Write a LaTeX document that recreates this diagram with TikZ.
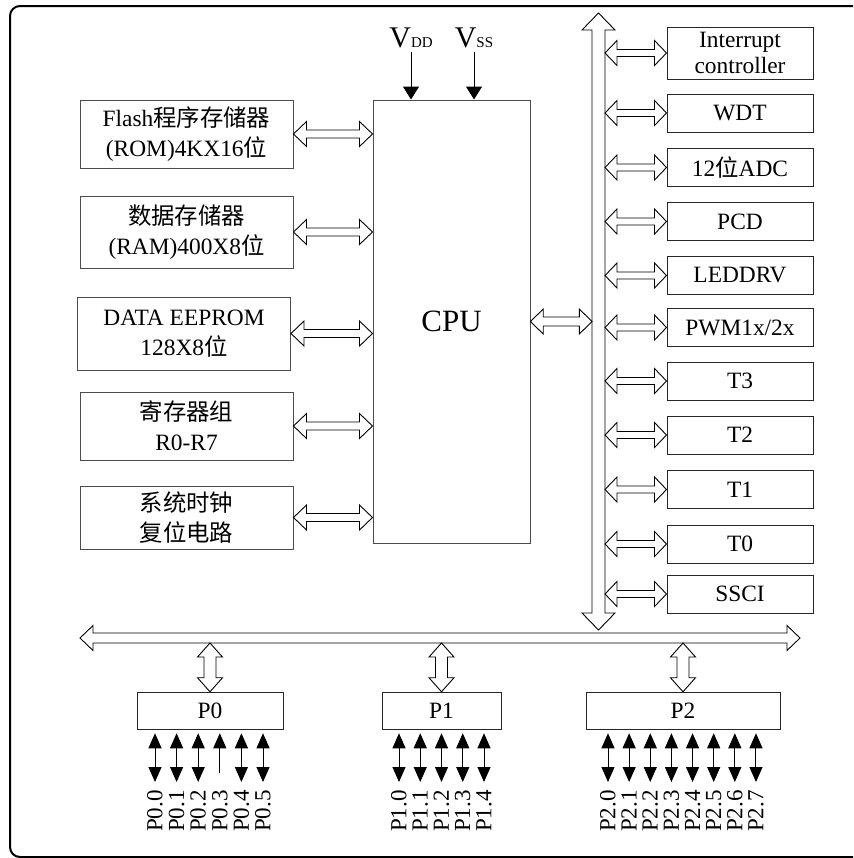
\documentclass[tikz,border=0pt]{standalone}
\usepackage{fontspec}
\setmainfont{Liberation Serif}
\newfontfamily\cjk{Noto Sans CJK SC}
\usetikzlibrary{arrows.meta,calc,positioning}

\tikzset{
  box/.style={draw=black!70, line width=0.5pt, align=center, inner sep=0pt,
              font=\fontsize{11.7}{15}\selectfont},
  lbox/.style={box, minimum width=106.5pt},
  rbox/.style={box, draw=black!85, minimum width=73pt, minimum height=19pt,
               font=\fontsize{11.7}{13}\selectfont},
  pbox/.style={box, draw=black!85, minimum height=18.75pt},
  hollow/.style={draw=black, line width=0.45pt, fill=white, line join=miter},
  pin/.style={line width=0.5pt,
              {Triangle[length=7.5pt,width=6.5pt]}-{Triangle[length=7.5pt,width=6.5pt]}},
  pinup/.style={line width=0.5pt, {Triangle[length=7.5pt,width=6.5pt]}-},
  pinlabel/.style={rotate=90, anchor=east, inner sep=0pt,
                   font=\fontsize{11.5}{12}\selectfont},
  supply/.style={line width=0.5pt, -{Triangle[length=6.5pt,width=8pt]}},
}

% hollow double arrows: from, to, head length, head half width, shaft half width
\newcommand{\hdbl}[5]{%
  \draw[hollow] (#1) -- ++(#3,#4) -- ++(0,#5-#4) -- ($(#2)+(-#3,#5)$) -- ++(0,#4-#5) -- (#2)
    -- ++(-#3,-#4) -- ++(0,#4-#5) -- ($(#1)+(#3,-#5)$) -- ++(0,#5-#4) -- cycle;}
\newcommand{\vdbl}[5]{%
  \draw[hollow] (#1) -- ++(#4,#3) -- ++(#5-#4,0) -- ($(#2)+(#5,-#3)$) -- ++(#4-#5,0) -- (#2)
    -- ++(-#4,-#3) -- ++(#4-#5,0) -- ($(#1)+(-#5,#3)$) -- ++(#5-#4,0) -- cycle;}

\begin{document}
\begin{tikzpicture}[x=0.5pt, y=-0.5pt]
    \useasboundingbox (0,0) rectangle (853,858);
    \clip (0,0) rectangle (853,858);
    \draw[line width=1pt, rounded corners=5pt] (10,6) rectangle (900,857);

    % memories and clock on the left
    \node[lbox, minimum height=34pt] (flash) at (186.5,134)
        {Flash{\cjk 程序存储器}\\(ROM)4KX16{\cjk 位}};
    \node[lbox, minimum height=36pt] (ram) at (186.5,232)
        {{\cjk 数据存储器}\\(RAM)400X8{\cjk 位}};
    \node[lbox, minimum height=36.5pt] (eeprom) at (184,333.5)
        {DATA EEPROM\\128X8{\cjk 位}};
    \node[lbox, minimum height=34pt] (regs) at (186.5,426)
        {{\cjk 寄存器组}\\R0-R7};
    \node[lbox, minimum height=31.5pt] (clk) at (186.5,517.5)
        {{\cjk 系统时钟}\\{\cjk 复位电路}};

    % CPU and supply
    \node[box, minimum width=78.5pt, minimum height=221.5pt] (cpu) at (451.5,321.5)
        {\fontsize{15.5}{18}\selectfont CPU};
    \node[anchor=south, inner sep=2pt] (vdd) at (411,52)
        {\fontsize{15}{15}\selectfont V{\fontsize{7.5}{8}\selectfont DD}};
    \node[anchor=south, inner sep=2pt] (vss) at (474,52)
        {\fontsize{15}{15}\selectfont V{\fontsize{7.5}{8}\selectfont SS}};
    \draw[supply] (vdd.south) -- (vdd.south |- cpu.north);
    \draw[supply] (vss.south) -- (vss.south |- cpu.north);

    \foreach \nm in {flash,ram,eeprom,regs,clk}
        \hdbl{\nm.east}{\nm.east -| cpu.west}{13}{12.5}{4};

    % buses
    \coordinate (vbtop) at (598.5,13);
    \coordinate (vbbot) at (598.5,630);
    \coordinate (vbl) at (592,0);
    \coordinate (vbr) at (605,0);
    \coordinate (hbl) at (80,638);
    \coordinate (hbr) at (800,638);
    \coordinate (hbb) at (0,643);
    \hdbl{hbl}{hbr}{13}{12.5}{5}
    \vdbl{vbtop}{vbbot}{17}{16.5}{6.5}
    \hdbl{cpu.east}{cpu.east -| vbl}{12.7}{12.5}{4.5}

    % peripherals on the right
    \node[rbox, minimum height=26pt] (intc) at (740,53) {Interrupt\\controller};
    \hdbl{intc.west -| vbr}{intc.west}{12}{12.5}{3.5}
    \foreach \nm/\yy/\txt in {wdt/113/WDT, adc/167.5/{12{\cjk 位}ADC}, pcd/221.5/PCD,
                              leddrv/275.5/LEDDRV, pwm/327.5/{PWM1x/2x}, tthree/381/T3,
                              ttwo/435/T2, tone/489.5/T1, tzero/544/T0, ssci/594/SSCI}{
        \node[rbox] (\nm) at (740,\yy) {\txt};
        \hdbl{\nm.west -| vbr}{\nm.west}{12}{12.5}{3.5}
    }

    % ports
    \node[pbox, minimum width=73pt] (port0) at (210,711) {P0};
    \node[pbox, minimum width=59.5pt] (port1) at (441.5,711) {P1};
    \node[pbox, minimum width=97pt] (port2) at (683,711) {P2};
    \foreach \nm in {port0,port1,port2}
        \vdbl{\nm.north |- hbb}{\nm.north}{14}{12.5}{6};

    \foreach \i in {0,...,5}{
        \node[pinlabel] (pa\i) at ({155+21.6*\i},790) {P0.\i};
        \ifnum\i=3
            \draw[pinup, shorten <=1.5pt, shorten >=8.5pt] (port0.south -| pa\i.east) -- (pa\i.east);
        \else
            \draw[pin, shorten <=1.5pt, shorten >=4pt] (port0.south -| pa\i.east) -- (pa\i.east);
        \fi
    }
    \foreach \i in {0,...,4}{
        \node[pinlabel] (pb\i) at ({399+21.25*\i},790) {P1.\i};
        \draw[pin, shorten <=1.5pt, shorten >=4pt] (port1.south -| pb\i.east) -- (pb\i.east);
    }
    \foreach \i in {0,...,7}{
        \node[pinlabel] (pc\i) at ({608+21.14*\i},790) {P2.\i};
        \draw[pin, shorten <=1.5pt, shorten >=4pt] (port2.south -| pc\i.east) -- (pc\i.east);
    }
\end{tikzpicture}
\end{document}
